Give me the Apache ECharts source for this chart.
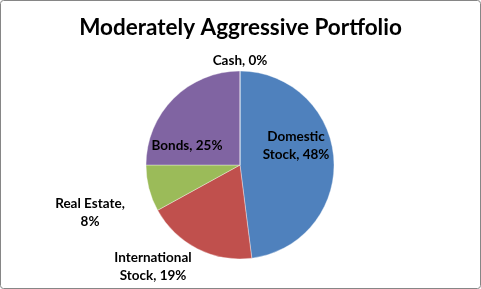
<!DOCTYPE html>
<html><head><meta charset="utf-8">
<script src="https://cdn.jsdelivr.net/npm/echarts@6/dist/echarts.min.js"></script>
<style>html,body{margin:0;padding:0;background:#fff}#c{width:481px;height:289px}</style>
</head><body><div id="c"></div>
<script>
const title = 'Moderately Aggressive Portfolio';
const categories = ['Domestic Stock', 'International Stock', 'Real Estate', 'Bonds', 'Cash'];
const values = [48, 19, 8, 25, 0];
const colors = ['#4F81BD', '#C0504D', '#9BBB59', '#8064A2', '#4BACC6'];
// label break style per category
const labelTexts = ['Domestic\nStock, {p}%', 'International\nStock, {p}%', 'Real Estate,\n{p}%', 'Bonds, {p}%', 'Cash, {p}%'];
const labelCenters = [[296,146],[153,267],[90,213],[187,146],[240,61]];

const chart = echarts.init(document.getElementById('c'));
const FONT = 'Lato';
chart.setOption({
  animation: false,
  backgroundColor: '#fff',
  title: { text: title, left: 'center', top: 11, textStyle: { fontFamily: FONT, fontWeight: 'bold', fontSize: 22.5, color: '#000' } },
  graphic: [{ type: 'rect', shape: { x: 0.5, y: 0.5, width: 480, height: 288, r: 3 }, style: { fill: 'none', stroke: '#868686', lineWidth: 1 }, silent: true }],
  series: [{
    type: 'pie',
    center: [240, 165],
    radius: [0, 94],
    startAngle: 90,
    clockwise: true,
    minAngle: 0,
    avoidLabelOverlap: false,
    data: categories.map((n, i) => ({ name: n, value: values[i], itemStyle: { color: colors[i] } })),
    itemStyle: { borderColor: 'rgba(255,255,255,0.35)', borderWidth: 1 },
    label: {
      show: true,
      position: 'outside',
      fontFamily: FONT, fontWeight: 'bold', fontSize: 13.5, color: '#000', lineHeight: 18, align: 'center',
      formatter: p => labelTexts[p.dataIndex].replace('{p}', Math.round(p.percent))
    },
    labelLine: { show: false },
    labelLayout: p => ({ x: labelCenters[p.dataIndex][0], y: labelCenters[p.dataIndex][1], align: 'center', verticalAlign: 'middle' })
  }]
});
</script></body></html>
